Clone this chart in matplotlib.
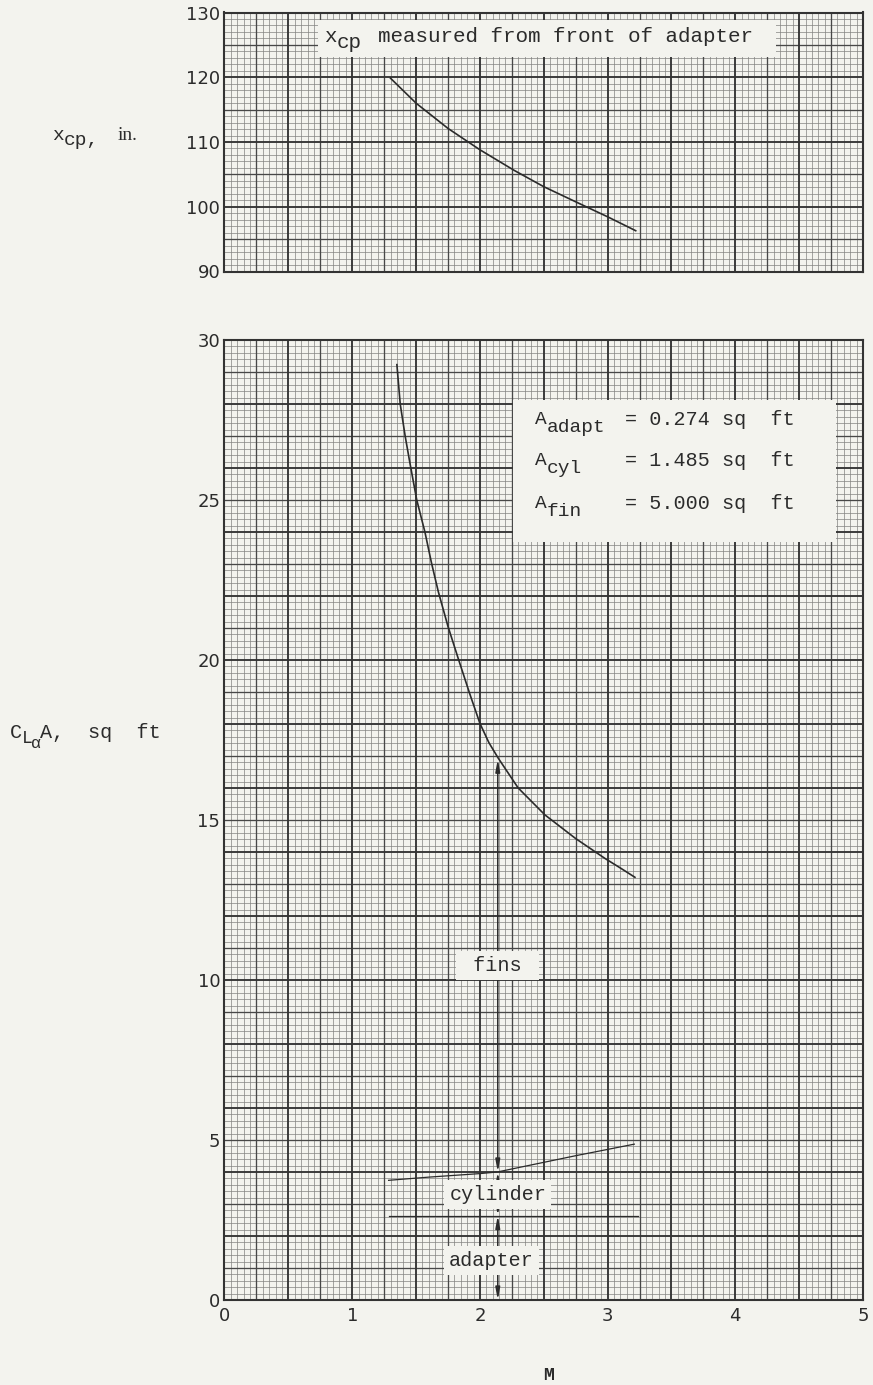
import numpy as np
import matplotlib
matplotlib.use("Agg")
import matplotlib.pyplot as plt
from matplotlib.transforms import offset_copy

# ---------------- data ----------------
mach_xcp = [1.30, 1.50, 1.75, 2.00, 2.27, 2.50, 2.80, 3.00, 3.22]
xcp_in = [119.85, 116.0, 112.1, 108.8, 105.6, 103.1, 100.3, 98.45, 96.3]

mach_total = [1.35, 1.376, 1.415, 1.45, 1.505, 1.57, 1.62, 1.674, 1.75, 1.83,
              1.92, 2.00, 2.07, 2.144, 2.30, 2.509, 2.75, 2.979, 3.10, 3.214]
cla_total = [29.23, 28.0, 26.99, 26.2, 25.01, 23.99, 23.05, 22.14, 21.05, 20.05,
             18.95, 18.02, 17.42, 16.93, 16.0, 15.16, 14.42, 13.80, 13.50, 13.21]

mach_body = [1.285, 1.60, 2.00, 2.136, 2.751, 3.209]
cla_body = [3.74, 3.84, 3.95, 4.00, 4.51, 4.87]

mach_adapter = [1.285, 3.236]
cla_adapter = [2.64, 2.64]

arrow_mach = 2.14
fins_span = (4.0, 16.9)
cyl_span = (2.64, 4.0)
adapter_span = (0.0, 2.64)

x_ticks = [0, 1, 2, 3, 4, 5]
top_y_ticks = [90, 100, 110, 120, 130]
bot_y_ticks = [0, 5, 10, 15, 20, 25, 30]

area_names = ['adapt', 'cyl', 'fin']
area_values = ['0.274', '1.485', '5.000']

# ---------------- style ----------------
PAPER = '#f3f3ee'
INK = '#2b2b2b'
MONO = 'Liberation Mono'
TICKFONT = 'DejaVu Sans'
FS = 14.5

fig = plt.figure(figsize=(8.73, 13.85), dpi=100, facecolor=PAPER)

W, H = 873.0, 1385.0
def frac_rect(l, t, r, b):
    return [l / W, 1 - b / H, (r - l) / W, (b - t) / H]

ax_top = fig.add_axes(frac_rect(224.5, 12.5, 863, 271.5))
ax_bot = fig.add_axes(frac_rect(224.5, 340, 863, 1300))

def graph_paper(ax, xlim, ylim, xstep, ystep):
    nx = int(round((xlim[1] - xlim[0]) / xstep))
    ny = int(round((ylim[1] - ylim[0]) / ystep))
    for i in range(nx + 1):
        v = xlim[0] + i * xstep
        if i % 10 == 0:
            ax.axvline(v, color='#343434', lw=1.35, zorder=0.6)
        elif i % 5 == 0:
            ax.axvline(v, color='#474747', lw=0.95, zorder=0.55)
        else:
            ax.axvline(v, color='#828280', lw=0.5, zorder=0.5)
    for j in range(ny + 1):
        v = ylim[0] + j * ystep
        if j % 10 == 0:
            ax.axhline(v, color='#343434', lw=1.35, zorder=0.6)
        elif j % 5 == 0:
            ax.axhline(v, color='#474747', lw=0.95, zorder=0.55)
        else:
            ax.axhline(v, color='#828280', lw=0.5, zorder=0.5)
    ax.set_xlim(*xlim)
    ax.set_ylim(*ylim)
    ax.set_facecolor(PAPER)
    for s in ax.spines.values():
        s.set_color('#333333')
        s.set_linewidth(1.5)
    ax.tick_params(length=0, labelsize=13, labelcolor=INK, pad=3)

graph_paper(ax_top, (0, 5), (90, 130), 0.05, 1.0)
graph_paper(ax_bot, (0, 5), (0, 30), 0.05, 0.2)

ax_top.set_xticks(x_ticks)
ax_top.set_xticklabels([])
ax_top.set_yticks(top_y_ticks)
ax_top.set_yticklabels([str(v) for v in top_y_ticks], fontfamily=TICKFONT)

ax_bot.set_xticks(x_ticks)
ax_bot.set_xticklabels([str(v) for v in x_ticks], fontfamily=TICKFONT)
ax_bot.set_yticks(bot_y_ticks)
ax_bot.set_yticklabels([str(v) for v in bot_y_ticks], fontfamily=TICKFONT)
ax_bot.tick_params(axis='x', pad=5)

def shifted(trans, dx, dy):
    return offset_copy(trans, fig=fig, x=dx, y=dy, units='dots')

def mono(ax_or_fig, x, y, s, trans, dx=0, dy=0, **kw):
    kw.setdefault('fontsize', FS)
    ax_or_fig.text(x, y, s, fontfamily=MONO, color=INK, ha='left', va='baseline',
                   transform=shifted(trans, dx, dy), zorder=4, **kw)

# ---------------- top panel ----------------
ax_top.plot(mach_xcp, xcp_in, color=INK, lw=1.2, zorder=3)
ax_top.add_patch(plt.Rectangle((0.736, 123.1), 4.32 - 0.736, 128.8 - 123.1,
                               facecolor=PAPER, edgecolor='none', zorder=2))
mono(ax_top, 0.776, 125.5, 'x', ax_top.transData, fontsize=15)
mono(ax_top, 0.776, 125.5, 'cp', ax_top.transData, dx=13, dy=-6, fontsize=15)
mono(ax_top, 1.20, 125.5, 'measured from front of adapter', ax_top.transData, fontsize=15)

# ---------------- bottom panel ----------------
ax_bot.plot(mach_total, cla_total, color=INK, lw=1.2, zorder=3)
ax_bot.plot(mach_body, cla_body, color=INK, lw=0.9, zorder=3)
ax_bot.plot(mach_adapter, cla_adapter, color=INK, lw=0.9, zorder=3)

arrow_kw = dict(arrowstyle='<|-|>,head_length=0.7,head_width=0.13', color=INK,
                lw=1.1, shrinkA=0, shrinkB=0)
for lo, hi in (fins_span, cyl_span, adapter_span):
    ax_bot.annotate('', xy=(arrow_mach, hi), xytext=(arrow_mach, lo),
                    arrowprops=arrow_kw, zorder=3)

lbl_box = dict(boxstyle='square,pad=0.25', facecolor=PAPER, edgecolor='none')
ax_bot.text(arrow_mach, 10.44, ' fins ', fontfamily=MONO, fontsize=FS, color=INK,
            ha='center', va='center', bbox=lbl_box, zorder=4)
ax_bot.text(arrow_mach, 3.31, 'cylinder', fontfamily=MONO, fontsize=FS, color=INK,
            ha='center', va='center', bbox=lbl_box, zorder=4)
ax_bot.text(arrow_mach - 0.05, 1.23, 'adapter', fontfamily=MONO, fontsize=FS, color=INK,
            ha='center', va='center', bbox=lbl_box, zorder=4)

ax_bot.add_patch(plt.Rectangle((2.26, 23.69), 4.79 - 2.26, 28.13 - 23.69,
                               facecolor=PAPER, edgecolor='none', zorder=2))
row_base = [27.35, 26.05, 24.72]
for name, val, yb in zip(area_names, area_values, row_base):
    mono(ax_bot, 2.43, yb, 'A', ax_bot.transData, dy=1, fontsize=14)
    mono(ax_bot, 2.43, yb, name, ax_bot.transData, dx=12, dy=-7, fontsize=14)
    mono(ax_bot, 3.14, yb, '= %s sq  ft' % val, ax_bot.transData)

# ---------------- axis labels ----------------
ft = fig.transFigure
yx = 1 - 140 / H
mono(fig, 52 / W, yx, 'x', ft, fontsize=14)
mono(fig, 52 / W, yx, 'cp,', ft, dx=12, dy=-5, fontsize=14)
fig.text(118 / W, yx, 'in.', fontfamily='Liberation Serif', fontsize=14,
         color=INK, ha='left', va='baseline')

yc = 1 - 738 / H
mono(fig, 10 / W, yc, 'C', ft)
mono(fig, 10 / W, yc, 'L', ft, dx=12, dy=-5, fontsize=13)
mono(fig, 10 / W, yc, 'α', ft, dx=21, dy=-10, fontsize=12)
mono(fig, 10 / W, yc, 'A,', ft, dx=30)
mono(fig, 88 / W, yc, 'sq  ft', ft)

fig.text(548 / W, 1 - 1376 / H, 'M', fontfamily=MONO, fontsize=13, fontweight='bold',
         color=INK, ha='center', va='center')

fig.savefig('out.png', dpi=100, facecolor=PAPER)
